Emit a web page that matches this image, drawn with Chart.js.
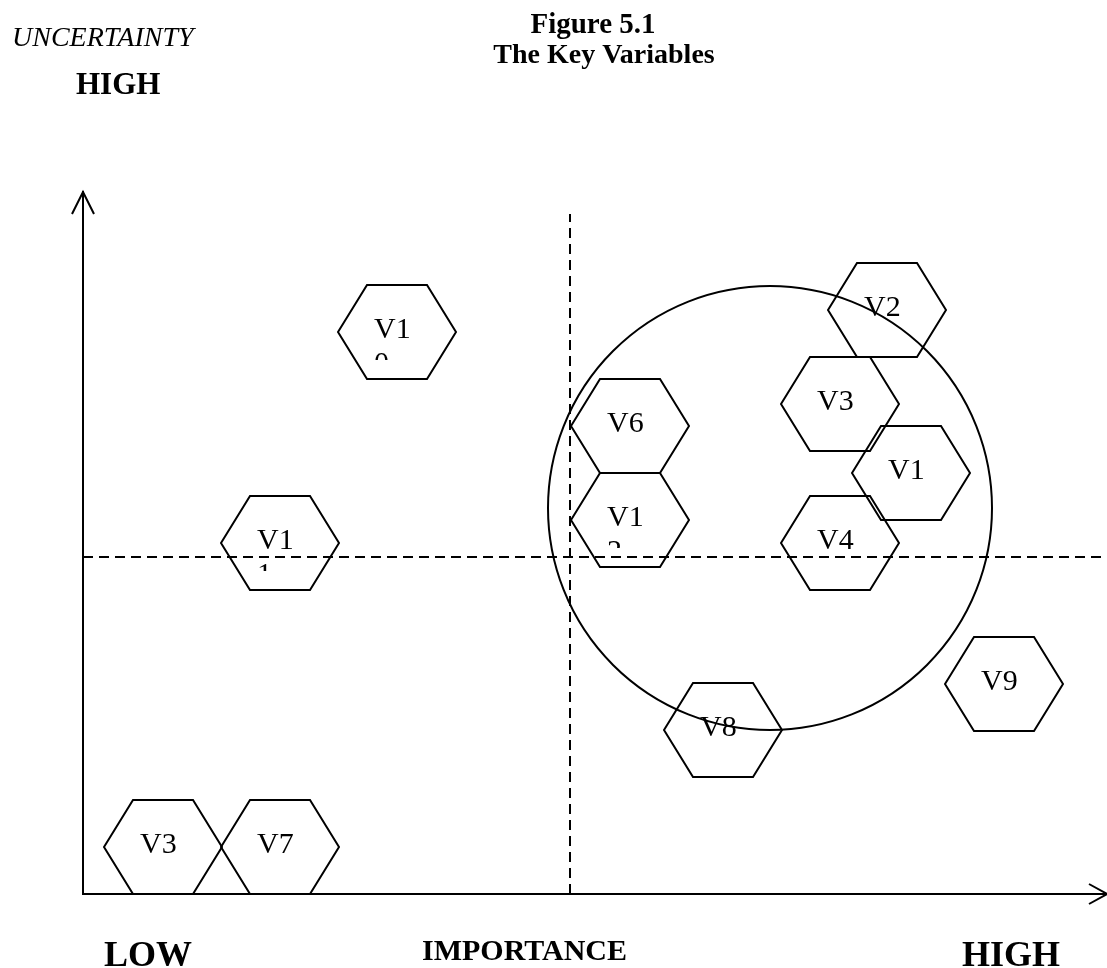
<!DOCTYPE html>
<html>
<head>
<meta charset="utf-8">
<script src="https://cdn.jsdelivr.net/npm/chart.js@4.4.1/dist/chart.umd.min.js"></script>
<style>
  html, body { margin: 0; padding: 0; background: #ffffff; }
  #c { display: block; }
</style>
</head>
<body>
<canvas id="c" width="1107" height="968"></canvas>
<script>
// ---- Data ----
const variableLabels = ["V10", "V11", "V6", "V12", "V2", "V3", "V1", "V4", "V8", "V9", "V3", "V7"];
const importance     = [31.4, 19.7, 54.7, 54.7, 80.4, 75.7, 82.8, 75.7, 64.0, 92.1, 8.0, 19.7];
const uncertainty    = [56.2, 35.1, 46.8, 37.4, 58.4, 49.0, 42.1, 35.1, 16.4, 21.0, 4.7, 4.7];

const clusterCenter = [68.7, 38.6];          // importance, uncertainty
const importanceSplit = 48.7;                // vertical dashed divider
const uncertaintySplit = 33.7;               // horizontal dashed divider
const importanceRange = [0, 102.4];
const uncertaintyRange = [0, 70.2];
const dividerTop = 68.0;

const titleLines = ["Figure 5.1", "The Key Variables"];
const yAxisName = "UNCERTAINTY";
const yAxisHigh = "HIGH";
const xAxisName = "IMPORTANCE";
const xAxisLow = "LOW";
const xAxisHigh = "HIGH";

// ---- Hexagon point style ----
function makeHexagon() {
  const c = document.createElement('canvas');
  c.width = 124; c.height = 98;
  const g = c.getContext('2d');
  const cx = 62, cy = 49, hw = 59, tw = 30, hh = 47;
  g.strokeStyle = '#000';
  g.lineWidth = 2;
  g.lineJoin = 'miter';
  g.beginPath();
  g.moveTo(cx - hw, cy);
  g.lineTo(cx - tw, cy - hh);
  g.lineTo(cx + tw, cy - hh);
  g.lineTo(cx + hw, cy);
  g.lineTo(cx + tw, cy + hh);
  g.lineTo(cx - tw, cy + hh);
  g.closePath();
  g.stroke();
  return c;
}
const hexStyle = makeHexagon();

const hexPoints = importance.map((x, i) => ({ x: x, y: uncertainty[i] }));

const SERIF = '"Liberation Serif", "Times New Roman", Times, serif';

// ---- Plugin: labels inside hexagons ----
const hexLabels = {
  id: 'hexLabels',
  afterDatasetsDraw(chart) {
    const meta = chart.getDatasetMeta(3);
    const ctx = chart.ctx;
    ctx.save();
    ctx.fillStyle = '#000';
    ctx.font = '30px ' + SERIF;
    ctx.textAlign = 'left';
    ctx.textBaseline = 'alphabetic';
    meta.data.forEach((pt, i) => {
      const label = variableLabels[i];
      const lx = pt.x - 23;
      const by = pt.y + 6;
      const first = label.length > 2 ? label.slice(0, 2) : label;
      ctx.fillText(first, lx, by);
      if (label.length > 2) {
        ctx.save();
        ctx.beginPath();
        ctx.rect(pt.x - 40, by + 5, 80, pt.y + 28 - (by + 5));
        ctx.clip();
        ctx.fillText(label.slice(2), lx, by + 34);
        ctx.restore();
      }
    });
    ctx.restore();
  }
};

// ---- Plugin: arrows and texts ----
const decorations = {
  id: 'decorations',
  afterDraw(chart) {
    const ctx = chart.ctx;
    const xs = chart.scales.x, ys = chart.scales.y;
    const x0 = xs.getPixelForValue(importanceRange[0]);
    const x1 = xs.getPixelForValue(importanceRange[1]);
    const y0 = ys.getPixelForValue(uncertaintyRange[0]);
    const y1 = ys.getPixelForValue(uncertaintyRange[1]);
    ctx.save();
    ctx.strokeStyle = '#000';
    ctx.lineWidth = 2;
    // y arrow head
    ctx.beginPath();
    ctx.moveTo(x0 - 11, y1 + 22);
    ctx.lineTo(x0, y1);
    ctx.lineTo(x0 + 11, y1 + 22);
    ctx.stroke();
    // x arrow head
    ctx.beginPath();
    ctx.moveTo(x1 - 18, y0 - 10);
    ctx.lineTo(x1, y0);
    ctx.lineTo(x1 - 18, y0 + 10);
    ctx.stroke();

    ctx.fillStyle = '#000';
    ctx.textBaseline = 'alphabetic';
    ctx.textAlign = 'left';
    ctx.font = 'italic 28px ' + SERIF;
    ctx.fillText(yAxisName, 12, 46);
    ctx.font = 'bold 31px ' + SERIF;
    ctx.fillText(yAxisHigh, 76, 94);

    ctx.textAlign = 'center';
    ctx.font = 'bold 29px ' + SERIF;
    ctx.fillText(titleLines[0], 593, 33);
    ctx.font = 'bold 28px ' + SERIF;
    ctx.fillText(titleLines[1], 604, 63);

    ctx.textAlign = 'left';
    ctx.font = 'bold 36px ' + SERIF;
    ctx.fillText(xAxisLow, 104, 966);
    ctx.fillText(xAxisHigh, 962, 966);
    ctx.font = 'bold 30px ' + SERIF;
    ctx.fillText(xAxisName, 422, 960);
    ctx.restore();
  }
};

const ctx = document.getElementById('c').getContext('2d');
new Chart(ctx, {
  type: 'scatter',
  data: {
    datasets: [
      {
        type: 'line',
        data: [{ x: importanceSplit, y: uncertaintyRange[0] }, { x: importanceSplit, y: dividerTop }],
        borderColor: '#000', borderWidth: 2, borderDash: [10, 6],
        pointRadius: 0, fill: false, clip: false
      },
      {
        type: 'line',
        data: [{ x: importanceRange[0], y: uncertaintySplit }, { x: importanceRange[1], y: uncertaintySplit }],
        borderColor: '#000', borderWidth: 2, borderDash: [10, 6],
        pointRadius: 0, fill: false, clip: false
      },
      {
        data: [{ x: clusterCenter[0], y: clusterCenter[1] }],
        pointStyle: 'circle', pointRadius: 222,
        backgroundColor: 'rgba(0,0,0,0)', borderColor: '#000', borderWidth: 2,
        clip: false
      },
      {
        data: hexPoints,
        pointStyle: hexStyle,
        pointRadius: 50,
        clip: false
      }
    ]
  },
  options: {
    responsive: false,
    animation: false,
    devicePixelRatio: 1,
    events: [],
    layout: { autoPadding: false, padding: { left: 83, top: 192, right: 0, bottom: 74 } },
    plugins: { legend: { display: false }, tooltip: { enabled: false }, title: { display: false } },
    scales: {
      x: {
        type: 'linear', min: importanceRange[0], max: importanceRange[1],
        grid: { display: false, drawTicks: false },
        ticks: { display: false },
        border: { display: true, color: '#000', width: 2 },
        afterFit: (s) => { s.height = 0; }
      },
      y: {
        type: 'linear', min: uncertaintyRange[0], max: uncertaintyRange[1],
        grid: { display: false, drawTicks: false },
        ticks: { display: false },
        border: { display: true, color: '#000', width: 2 },
        afterFit: (s) => { s.width = 0; }
      }
    }
  },
  plugins: [hexLabels, decorations]
});
</script>
</body>
</html>
